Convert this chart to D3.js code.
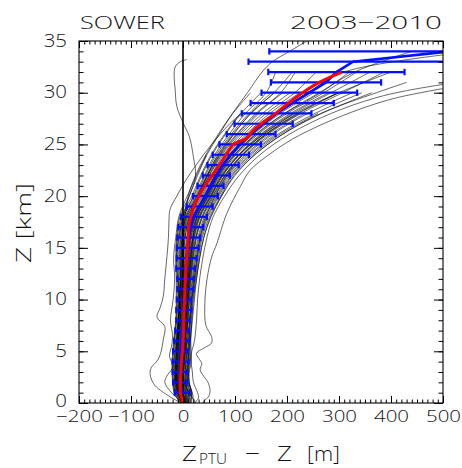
<!DOCTYPE html>
<html>
<head>
<meta charset="utf-8">
<script src="https://cdn.jsdelivr.net/npm/d3@7"></script>
<style>
  html, body { margin: 0; padding: 0; background: #fff; }
  svg text { font-family: "Open Sans", "DejaVu Sans", sans-serif; font-weight: 300; fill: #111; }
</style>
</head>
<body>
<svg id="chart" width="462" height="468"></svg>
<script>
// ---- data -------------------------------------------------------------
const titleLeft = "SOWER";
const titleRight = "2003\u22122010";

const xMajorTicks = [-200, -100, 0, 100, 200, 300, 400, 500];
const yMajorTicks = [0, 5, 10, 15, 20, 25, 30, 35];

// mean deviation (blue) and its standard deviation per 1-km layer
const meanZ = [1,2,3,4,5,6,7,8,9,10,11,12,13,14,15,16,17,18,19,20,21,22,23,24,25,26,27,28,29,30,31,32,33,34];
const meanDev = [-1.5,-5.5,-6,-4.5,-5,-3,-2,0,1.5,2,4.5,5,5,7,9,11,15,21,32,43,53,64,77,92,110,131,155,180,210,243,275,295,327,515];
const sdDev = [14.5,13.5,14,15.5,14,14,13,13,14.5,14,15.5,16,18,19,21,22,24,25,25,24,25,26,30,35,40,47,56,67,80,92,106,131,201,349];

// smoothed profile (red)
const fitZ = [0,1,2,3,4,5,6,7,8,9,10,11,12,13,14,15,16,17,18,19,20,21,22,23,24,25,25.6,26.2,27,28,29,30,31,32];
const fitDev = [0,-5,-5,-4,-3,-1,0,1,1.5,2,3,3.5,4.5,5.5,7,8.5,10,11,15,21,31,42,56,70,83,97,122,132,150,178,203,230,262,305];

// individual soundings sampled at common heights (km); each ends at its burst level
const levels = [0,1,2,3,4,6,8,10,12,14,16,18,20,22,24,26,28,30,32,34];
const soundings = [
  [-4,-17,-20,-21,-21,-18,-14,-13,-13,-14,-12,-6,12,28,46,70,96,130],
  [-2,-15,-19,-20,-20,-17,-13,-12,-11,-12,-11,-3,17,34,54,80,110],
  [0,-14,-18,-19,-18,-16,-12,-10,-9,-10,-9,-1,21,41,61,89,120,160,178],
  [-3,-13,-16,-17,-17,-14,-10,-9,-8,-8,-7,1,24,43,64,93,127,170],
  [1,-12,-15,-16,-16,-13,-9,-8,-6,-6,-4,4,26,46,68,98],
  [2,-10,-14,-14,-14,-11,-8,-6,-5,-4,-2,6,28,48,71,103,140,188,216],
  [-1,-9,-12,-13,-12,-10,-6,-5,-3,-2,0,8,31,51,75,108,146],
  [0,-8,-11,-12,-11,-9,-5,-4,-1,0,2,11,33,54,78,112,153,206],
  [2,-6,-10,-10,-9,-7,-4,-2,0,1,4,13,36,56,81,117,160,215,256],
  [3,-5,-8,-9,-8,-6,-3,-1,2,3,7,16,38,59,85,122,167,225],
  [1,-4,-7,-7,-6,-4,-1,1,3,5,9,18,41,61,88,126,173],
  [0,-2,-5,-6,-5,-3,0,2,5,7,11,21,43,64,92,131,180,243,295],
  [4,-1,-4,-5,-3,-2,1,3,7,9,13,23,45,67,95,136,187,252],
  [5,1,-3,-3,-2,0,3,5,8,11,15,26,48,69,99,140],
  [2,2,-1,-2,0,1,4,6,10,13,18,28,50,72,102,145,200,271,334],
  [6,4,0,0,2,3,5,8,11,15,20,31,53,74,106,150,207,280],
  [3,5,1,1,3,4,7,9,13,17,22,33,55,77,109,155,214],
  [8,7,3,2,5,5,8,10,15,18,24,36,57,80,113,159,220,298],
  [5,8,4,4,6,7,9,12,16,20,26,38,60,82,116,164,227,307,387],
  [10,10,5,5,8,8,10,13,18,22,29,41,62,85,120,169,234],
  [7,11,7,7,9,10,12,15,19,24,31,43,65,87,123,173,240,326],
  [12,13,8,8,11,11,13,16,21,26,33,46,67,90,127,178],
  [9,14,9,10,12,12,14,17,23,28,35,48,69,93,130,183,254,344],
  [14,16,11,11,14,14,16,19,24,30,37,51,72,95,134,187,260],
  [16,17,12,12,16,15,17,20,26,32,40,53,74,98,138,192,267,363],
  [5,3,0,-1,1,2,4,7,10,14,19,30,52,75,108,155,215,300,400],
  [3,0,-3,-4,-2,0,2,4,7,10,14,24,46,68,98,140,195,262,330,440],
  [-2,-6,-9,-9,-7,-5,-2,0,3,5,9,19,40,62,90,128,178,240,310,560],
  [1,-7,-10,-11,-10,-8,-5,-3,-1,1,4,12,30,47,70,98,130,175,210],
  [20,18,10,8,10,12,14,17,22,27,33,44,62,84,115,160,222,300],
  [-6,-16,-17,-15,-14,-12,-9,-7,-5,-6,-5,2,20,36,56,82,112,150],
  [25,12,2,0,3,5,6,9,12,15,19,27,47,66,94,132,182,246],
  [2,-9,-13,-13,-12,-9,-6,-4,-2,-1,1,9,30,50,73,105,143,192],
  [4,0,-2,-3,-1,1,3,5,9,12,16,27,49,70,100,142,196,265,320],
  [-1,-11,-14,-15,-14,-12,-8,-7,-4,-4,-2,6,27,46,67,96,131,176],
  [6,6,2,1,3,4,6,9,12,16,21,32,54,76,108,152,211,285,360],
  [0,-3,-6,-7,-6,-4,-1,1,4,6,10,20,42,63,90,129,177],
  [9,9,5,4,6,7,9,11,14,19,25,37,58,81,114,161,224]
];

// irregular soundings given as [height km, deviation m]
const irregularSoundings = [
  [[0,-3],[1,-8],[2,-12],[4,-10],[6,-9],[8,-8],[10,-7],[12,-10],[13.5,-13],[15,-11],[16.5,-6],[18,0],[20,12],[21.9,24],[23.8,20],[25.8,12],[27,1],[28.7,-12],[30.3,-15],[31.5,-17],[32.5,-15],[33,-5],[33.2,7]],
  [[0,-3],[0.6,-25],[1.9,-57],[3.2,-63],[4.2,-48],[5,-42],[6.1,-38],[7.4,-35],[8.3,-50],[9.2,-44],[10.3,-38],[12,-35],[14.1,-31],[16,-28],[17.5,-27],[18.7,-25],[20,-12],[21.5,5],[23,25],[25,55],[27,90],[28,112]],
  [[0,0],[0.5,-12],[1,-22],[2,-35],[2.7,-30],[3.5,-19],[4.5,-26],[5.5,-22],[6.5,-20],[8,-24],[10,-19],[12,-16],[14,-18],[16,-14],[18,-8],[20,8],[22,26],[24,45]],
  [[0,39],[0.1,39],[0.6,49],[1.1,52],[1.9,49],[3.2,33],[3.8,36],[4.8,26],[5.3,40],[5.8,55],[6.4,55],[7.5,44],[9.6,42],[11.9,46],[14.1,55],[15.4,65],[18.3,84],[20.9,110],[22.5,129],[24,165],[25.5,210],[27,270],[28.5,345],[29.5,410],[30.4,500]],
  [[0,22],[0.5,30],[1,28],[2,20],[3,18],[4.5,15],[6,22],[8,26],[10,28],[12,32],[14,38],[16,46],[18,58],[20,80],[22,108],[24,148],[26,205],[28,285],[29.5,370],[30.2,430],[30.8,500]],
  [[0,14],[1,16],[2,12],[4,10],[6,14],[8,18],[10,22],[12,26],[14,32],[16,40],[18,54],[20,74],[22,100],[24,138],[26,192],[28,265],[30,372],[31,430]],
  [[0,-1],[1,-10],[2,-13],[4,-13],[6,-11],[8,-8],[10,-6],[12,-4],[14,-3],[16,-1],[18,4],[20,10],[22,24],[24,44],[26,68],[28,95],[30,124],[32,152],[33,172],[34,205],[35.3,248]]
];

// ---- layout -----------------------------------------------------------
const svg = d3.select("#chart");
const plotLeft = 79, plotRight = 443, plotTop = 41, plotBottom = 403;

const x = d3.scaleLinear().domain([-200, 500]).range([plotLeft, plotRight]);
const y = d3.scaleLinear().domain([0, 35]).range([plotBottom, plotTop]);

svg.append("defs").append("clipPath").attr("id", "plotArea")
  .append("rect").attr("x", plotLeft).attr("y", plotTop)
  .attr("width", plotRight - plotLeft).attr("height", plotBottom - plotTop);

const plot = svg.append("g").attr("clip-path", "url(#plotArea)");

const profileLine = d3.line()
  .x(d => x(d[1])).y(d => y(d[0]))
  .curve(d3.curveCatmullRom.alpha(0.5));

// individual soundings
const allProfiles = soundings.map(vals => vals.map((v, i) => [levels[i], v]))
  .concat(irregularSoundings);

plot.append("g").selectAll("path").data(allProfiles).join("path")
  .attr("d", profileLine)
  .attr("fill", "none")
  .attr("stroke", "#000")
  .attr("stroke-opacity", 0.85)
  .attr("stroke-width", 0.7);

// zero reference
plot.append("line")
  .attr("x1", x(0)).attr("x2", x(0))
  .attr("y1", y(0)).attr("y2", y(35))
  .attr("stroke", "#000").attr("stroke-width", 1.6);

// standard deviation bars
const bars = plot.append("g").attr("stroke", "#0010ff").attr("stroke-width", 2.2);
meanZ.forEach((z, i) => {
  const lo = meanDev[i] - sdDev[i], hi = meanDev[i] + sdDev[i];
  bars.append("line").attr("x1", x(lo)).attr("x2", x(hi)).attr("y1", y(z)).attr("y2", y(z));
  [lo, hi].forEach(v => {
    bars.append("line").attr("x1", x(v)).attr("x2", x(v))
      .attr("y1", y(z) - 3.2).attr("y2", y(z) + 3.2);
  });
});

// mean profile
plot.append("path")
  .datum(meanZ.map((z, i) => [z, meanDev[i]]))
  .attr("d", d3.line().x(d => x(d[1])).y(d => y(d[0])))
  .attr("fill", "none").attr("stroke", "#0010ff").attr("stroke-width", 2.6);

// smoothed profile
plot.append("path")
  .datum(fitZ.map((z, i) => [z, fitDev[i]]))
  .attr("d", profileLine)
  .attr("fill", "none").attr("stroke", "#ff0000").attr("stroke-width", 3);

// ---- axes -------------------------------------------------------------
const fmt = d => d < 0 ? "\u2212" + Math.abs(d) : String(d);
const tidy = g => { g.select(".domain").remove(); g.selectAll("line").attr("stroke", "#000").attr("stroke-width", 1); };

// widen glyphs horizontally so the text spans the given width
function widen(text, width) {
  const natural = text.node().getComputedTextLength();
  const s = natural > 0 ? width / natural : 1;
  const x0 = +text.attr("x") || 0;
  text.attr("x", x0 / s).attr("transform", `scale(${s},1)`);
}
const digitWidth = 11.7;

// minor ticks
svg.append("g").attr("transform", `translate(0,${plotBottom})`)
  .call(d3.axisBottom(x).tickValues(d3.range(-200, 501, 10)).tickSize(-3.5).tickFormat(""))
  .call(tidy);
svg.append("g").attr("transform", `translate(0,${plotTop})`)
  .call(d3.axisTop(x).tickValues(d3.range(-200, 501, 10)).tickSize(-3.5).tickFormat(""))
  .call(tidy);
svg.append("g").attr("transform", `translate(${plotLeft},0)`)
  .call(d3.axisLeft(y).tickValues(d3.range(0, 36, 1)).tickSize(-4.5).tickFormat(""))
  .call(tidy);
svg.append("g").attr("transform", `translate(${plotRight},0)`)
  .call(d3.axisRight(y).tickValues(d3.range(0, 36, 1)).tickSize(-4.5).tickFormat(""))
  .call(tidy);

// major ticks with labels
const xAxis = svg.append("g").attr("transform", `translate(0,${plotBottom})`)
  .call(d3.axisBottom(x).tickValues(xMajorTicks).tickSize(-7).tickPadding(7).tickFormat(fmt))
  .call(tidy);
xAxis.selectAll("text").attr("font-size", 16.5).attr("font-family", null).attr("fill", "#111")
  .each(function() { const t = d3.select(this); widen(t, t.text().length * digitWidth); });

svg.append("g").attr("transform", `translate(0,${plotTop})`)
  .call(d3.axisTop(x).tickValues(xMajorTicks).tickSize(-7).tickFormat(""))
  .call(tidy);

const yAxis = svg.append("g").attr("transform", `translate(${plotLeft},0)`)
  .call(d3.axisLeft(y).tickValues(yMajorTicks).tickSize(-9).tickPadding(12).tickFormat(fmt))
  .call(tidy);
yAxis.selectAll("text").attr("font-size", 17.5).attr("font-family", null).attr("fill", "#111")
  .attr("dy", d => d === 0 ? "0.2em" : "0.3em")
  .each(function() { const t = d3.select(this); widen(t, t.text().length * digitWidth); });

svg.append("g").attr("transform", `translate(${plotRight},0)`)
  .call(d3.axisRight(y).tickValues(yMajorTicks).tickSize(-9).tickFormat(""))
  .call(tidy);

// frame
svg.append("rect").attr("x", plotLeft).attr("y", plotTop)
  .attr("width", plotRight - plotLeft).attr("height", plotBottom - plotTop)
  .attr("fill", "none").attr("stroke", "#000").attr("stroke-width", 1.1);

// ---- titles -----------------------------------------------------------
function label(parent, str, px, py, size, width, anchor) {
  const g = parent.append("g").attr("transform", `translate(${px},${py})`);
  const t = g.append("text").attr("font-size", size).attr("text-anchor", anchor || "start").text(str);
  widen(t, width);
  return g;
}

label(svg, titleLeft, 80, 28.5, 18.5, 85);
label(svg, titleRight, 290, 28.5, 18.5, 152);

const yTitle = svg.append("g").attr("transform", "translate(31,223) rotate(-90)");
label(yTitle, "Z [km]", 0, 0, 20.5, 80, "middle");

const xTitle = svg.append("g");
label(xTitle, "Z", 182, 460.5, 21, 15);
label(xTitle, "PTU", 199, 464, 14.5, 28);
label(xTitle, "\u2212", 245, 460.5, 21, 15);
label(xTitle, "Z", 277, 460.5, 21, 15);
label(xTitle, "[m]", 307, 460.5, 21, 33);
</script>
</body>
</html>
